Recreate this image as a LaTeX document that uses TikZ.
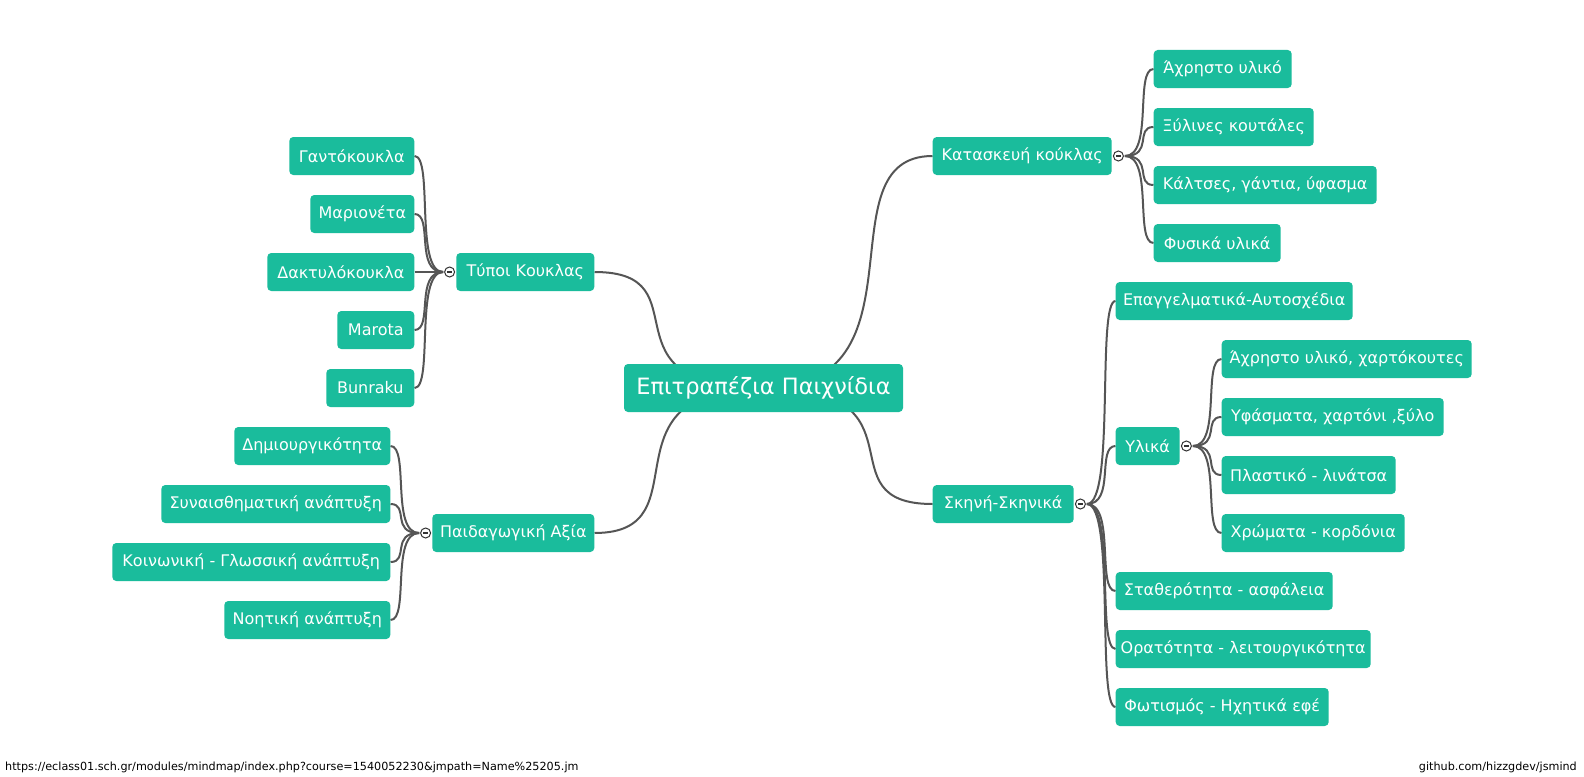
\documentclass[tikz,border=0pt]{standalone}
\usepackage{fontspec}
\newfontfamily\jmfont{DejaVu Sans}
\usetikzlibrary{calc}
\definecolor{jmgreen}{HTML}{1ABC9C}
\definecolor{jmline}{HTML}{555555}
\definecolor{jmexp}{HTML}{333333}
\pgfdeclarelayer{bg}
\pgfsetlayers{bg,main}
% #1 = parent out point, #2 = child in point; curve is computed from the child side
\newcommand\jmconn[2]{\draw[conn] let \p1=(#2), \p2=(#1) in (\p1) .. controls ({\x1+(\x2-\x1)*2/3},\y1) and (\x1,\y2) .. (\p2);}
\tikzset{
  mnode/.style={rectangle, rounded corners=4pt, fill=jmgreen, text=white,
    font={\jmfont\fontsize{16}{18}\selectfont}, minimum height=38pt,
    inner xsep=0pt, inner ysep=0pt},
  rootnode/.style={mnode, font={\jmfont\fontsize{22.5}{26}\selectfont}, minimum height=48pt},
  conn/.style={draw=jmline, line width=2pt},
  expander/.style={circle, draw=jmexp, line width=1pt, fill=white, minimum size=10pt, inner sep=0pt,
    path picture={\draw[jmexp, line width=1.6pt] ([xshift=-2.6pt]path picture bounding box.center) -- ([xshift=2.6pt]path picture bounding box.center);}},
  foot/.style={font={\jmfont\fontsize{11.2}{13}\selectfont}, text=black, inner sep=0pt}
}
\begin{document}
\begin{tikzpicture}[x=1pt,y=-1pt]
\useasboundingbox (0,0) rectangle (1584,776);

% root
\node[rootnode, minimum width=279pt] (root) at (763.5,388) {Επιτραπέζια Παιχνίδια};

% left main
\node[mnode, minimum width=138pt, anchor=east] (typ) at (594.5,272) {Τύποι Κουκλας};
\node[mnode, minimum width=162pt, anchor=east] (paid) at (594.5,533) {Παιδαγωγική Αξία};

% right main
\node[mnode, minimum width=179pt, anchor=west] (kat) at (932.5,156) {Κατασκευή κούκλας};
\node[mnode, minimum width=141pt, anchor=west] (skn) at (932.5,504) {Σκηνή-Σκηνικά};

% Τύποι children
\node[mnode, minimum width=125pt, anchor=east] (t1) at (414.5,156) {Γαντόκουκλα};
\node[mnode, minimum width=104pt, anchor=east] (t2) at (414.5,214) {Μαριονέτα};
\node[mnode, minimum width=147pt, anchor=east] (t3) at (414.5,272) {Δακτυλόκουκλα};
\node[mnode, minimum width=77pt, anchor=east] (t4) at (414.5,330) {Marota};
\node[mnode, minimum width=88pt, anchor=east] (t5) at (414.5,388) {Bunraku};

% Παιδαγωγική children
\node[mnode, minimum width=156pt, anchor=east] (p1) at (390.5,446) {Δημιουργικότητα};
\node[mnode, minimum width=229pt, anchor=east] (p2) at (390.5,504) {Συναισθηματική ανάπτυξη};
\node[mnode, minimum width=278pt, anchor=east] (p3) at (390.5,562) {Κοινωνική - Γλωσσική ανάπτυξη};
\node[mnode, minimum width=166pt, anchor=east] (p4) at (390.5,620) {Νοητική ανάπτυξη};

% Κατασκευή children
\node[mnode, minimum width=138pt, anchor=west] (k1) at (1153.5,69) {Άχρηστο υλικό};
\node[mnode, minimum width=160pt, anchor=west] (k2) at (1153.5,127) {Ξύλινες κουτάλες};
\node[mnode, minimum width=223pt, anchor=west] (k3) at (1153.5,185) {Κάλτσες, γάντια, ύφασμα};
\node[mnode, minimum width=127pt, anchor=west] (k4) at (1153.5,243) {Φυσικά υλικά};

% Σκηνή children
\node[mnode, minimum width=237pt, anchor=west] (s1) at (1115.5,301) {Επαγγελματικά-Αυτοσχέδια};
\node[mnode, minimum width=64pt, anchor=west] (s2) at (1115.5,446) {Υλικά};
\node[mnode, minimum width=217pt, anchor=west] (s3) at (1115.5,591) {Σταθερότητα - ασφάλεια};
\node[mnode, minimum width=255pt, anchor=west] (s4) at (1115.5,649) {Ορατότητα - λειτουργικότητα};
\node[mnode, minimum width=213pt, anchor=west] (s5) at (1115.5,707) {Φωτισμός - Ηχητικά εφέ};

% Υλικά children
\node[mnode, minimum width=250pt, anchor=west] (u1) at (1221.5,359) {Άχρηστο υλικό, χαρτόκουτες};
\node[mnode, minimum width=222pt, anchor=west] (u2) at (1221.5,417) {Υφάσματα, χαρτόνι ,ξύλο};
\node[mnode, minimum width=174pt, anchor=west] (u3) at (1221.5,475) {Πλαστικό - λινάτσα};
\node[mnode, minimum width=183pt, anchor=west] (u4) at (1221.5,533) {Χρώματα - κορδόνια};

% expanders
\node[expander] (typE) at ([xshift=-6.5pt]typ.west) {};
\node[expander] (paidE) at ([xshift=-6.5pt]paid.west) {};
\node[expander] (katE) at ([xshift=6.5pt]kat.east) {};
\node[expander] (sknE) at ([xshift=6.5pt]skn.east) {};
\node[expander] (s2E) at ([xshift=6.5pt]s2.east) {};

% out points
\coordinate (typO) at ([xshift=-13pt]typ.west);
\coordinate (paidO) at ([xshift=-13pt]paid.west);
\coordinate (katO) at ([xshift=13pt]kat.east);
\coordinate (sknO) at ([xshift=13pt]skn.east);
\coordinate (s2O) at ([xshift=13pt]s2.east);

% footer
\node[foot, anchor=west] (url) at (5,767) {https://eclass01.sch.gr/modules/mindmap/index.php?course=1540052230\&jmpath=Name\%25205.jm};
\node[foot, anchor=east] (gh) at (1577,767) {github.com/hizzgdev/jsmind};

\begin{pgfonlayer}{bg}
\fill[white] (0,0) rectangle (1584,776);
\jmconn{root.center}{typ.east}
\jmconn{root.center}{paid.east}
\jmconn{root.center}{kat.west}
\jmconn{root.center}{skn.west}
\foreach \c in {t1,t2,t3,t4,t5}{\jmconn{typO}{\c.east}}
\foreach \c in {p1,p2,p3,p4}{\jmconn{paidO}{\c.east}}
\foreach \c in {k1,k2,k3,k4}{\jmconn{katO}{\c.west}}
\foreach \c in {s1,s2,s3,s4,s5}{\jmconn{sknO}{\c.west}}
\foreach \c in {u1,u2,u3,u4}{\jmconn{s2O}{\c.west}}
\end{pgfonlayer}
\end{tikzpicture}
\end{document}
